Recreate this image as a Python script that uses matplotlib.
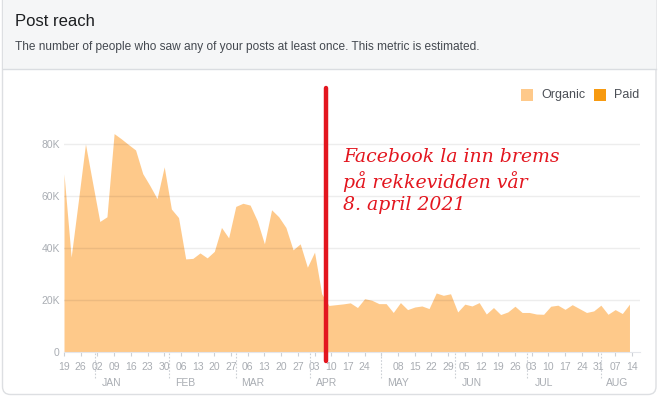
import numpy as np
import pandas as pd
import matplotlib
matplotlib.use("Agg")
import matplotlib.pyplot as plt
import matplotlib.dates as mdates
from matplotlib.patches import FancyBboxPatch, Rectangle

# post reach, one point every third day, in thousands
dates = pd.date_range("2020-12-19", periods=80, freq="3D")
organic = [68.5, 36.5, 58, 80, 65, 50.2, 52, 84, 82, 79.8,
           77.7, 68.6, 64, 59, 71.2, 55, 51.7, 35.8, 36, 38.1,
           36.2, 38.7, 47.9, 43.9, 56, 57.2, 56.5, 50.5, 41.6, 54.7,
           52, 47.9, 39.3, 41.6, 32.6, 38.4, 22.4, 17.9, 18.2, 18.5,
           18.9, 17.1, 20.5, 19.9, 18.6, 18.6, 15.2, 19, 16.3, 17.3,
           17.7, 16.7, 22.7, 21.8, 22.4, 15.4, 18.4, 17.7, 19, 14.6,
           17.1, 14.4, 15.4, 17.6, 15.2, 15.2, 14.6, 14.5, 17.6, 18,
           16.4, 18.2, 16.7, 15.2, 15.8, 18, 14.5, 16.3, 14.8, 18.4]

week_ticks = pd.date_range("2020-12-19", "2021-08-14", freq="7D")
month_starts = pd.date_range("2021-01-01", "2021-08-01", freq="MS")
month_names = ["JAN", "FEB", "MAR", "APR", "MAY", "JUN", "JUL", "AUG"]
y_ticks = [0, 20, 40, 60, 80]
y_labels = ["0", "20K", "40K", "60K", "80K"]
brake_date = pd.Timestamp("2021-04-08")
note = "Facebook la inn brems\npå rekkevidden vår\n8. april 2021"

ORANGE = "#fec98a"
PAID = "#f79a10"
GREY = "#a9adb3"
RED = "#e3161f"

W, H = 659, 398
fig = plt.figure(figsize=(W / 100, H / 100), dpi=100)
fig.patch.set_facecolor("white")

# card background, drawn in pixel coords
bg = fig.add_axes([0, 0, 1, 1], zorder=0)
bg.set_xlim(0, W)
bg.set_ylim(H, 0)
bg.axis("off")
card = FancyBboxPatch((2.5, -20), 653.5, 414.5, boxstyle="round,pad=0,rounding_size=8",
                      fc="white", ec="#dddfe2", lw=1)
bg.add_patch(card)
bg.add_patch(Rectangle((3, -20), 652.5, 88.5, fc="#f5f6f7", ec="none"))
bg.plot([3, 655.5], [68.5, 68.5], color="#dadde1", lw=1)
bg.text(15, 22, "Post reach", fontsize=12, color="#1c1e21",
        family="Liberation Sans", va="center")
bg.text(15, 47, "The number of people who saw any of your posts at least once. This metric is estimated.",
        fontsize=8.6, color="#444950", family="Liberation Sans", va="center")

# legend
bg.add_patch(Rectangle((521, 89), 12, 12, fc=ORANGE, ec="none"))
bg.text(541, 95, "Organic", fontsize=9, color="#4b4f56", family="Liberation Sans", va="center")
bg.add_patch(Rectangle((594, 89), 12, 12, fc=PAID, ec="none"))
bg.text(614, 95, "Paid", fontsize=9, color="#4b4f56", family="Liberation Sans", va="center")

# main chart
left, right, top, bottom = 64, 640, 92, 352
ax = fig.add_axes([left / W, 1 - bottom / H, (right - left) / W, (bottom - top) / H], zorder=1)
ax.patch.set_alpha(0)
x0 = mdates.date2num(pd.Timestamp("2020-12-19"))
ax.set_xlim(x0, x0 + (right - left) / 2.386)
ax.set_ylim(0, 100)

ax.fill_between(dates, organic, 0, color=ORANGE, lw=0, zorder=2)

for v in y_ticks[1:]:
    ax.axhline(v, color="black", alpha=0.07, lw=1, zorder=3)

ax.set_yticks(y_ticks)
ax.set_yticklabels(y_labels)
ax.tick_params(axis="y", length=0, pad=3, labelsize=7.5, labelcolor=GREY)

ax.set_xticks(week_ticks)
ax.set_xticklabels(["" if (d.month == 5 and d.day == 1) else d.strftime("%d") for d in week_ticks])
ax.tick_params(axis="x", length=3, width=0.8, color="#ccd0d5", pad=4,
               labelsize=7.5, labelcolor=GREY)
for lab in ax.get_xticklabels() + ax.get_yticklabels():
    lab.set_family("Liberation Sans")

for s in ["top", "right", "left"]:
    ax.spines[s].set_visible(False)
ax.spines["bottom"].set_color("#e4e6eb")

# month separators and names
xt = ax.get_xaxis_transform()
for m, name in zip(month_starts, month_names):
    ax.plot([m, m], [-0.004, -0.1], transform=xt, color="#ccd0d5", lw=0.8,
            ls=(0, (1.5, 1.5)), clip_on=False)
    ax.text(m + pd.Timedelta(days=7), -0.119, name, transform=xt, ha="center", va="center",
            fontsize=7.5, color=GREY, family="Liberation Sans")

# annotation
ax.plot([brake_date, brake_date], [-0.035, 1.015], transform=xt, color=RED, lw=3.2,
        solid_capstyle="round", clip_on=False, zorder=5)
ax.text(brake_date + pd.Timedelta(days=7), 78.5, note, color=RED, fontsize=13.6,
        family="DejaVu Serif", style="italic", va="top", linespacing=1.28, zorder=5)

fig.savefig("out.png", dpi=100)
